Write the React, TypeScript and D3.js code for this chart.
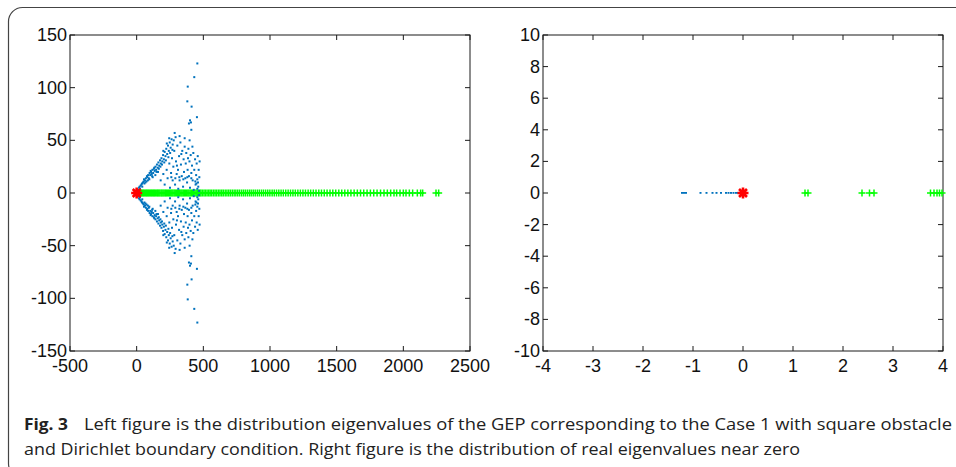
import React, { useEffect, useRef } from "react";
import * as d3 from "d3";

// tick values
const leftXTicks = [-500, 0, 500, 1000, 1500, 2000, 2500];
const leftYTicks = [-150, -100, -50, 0, 50, 100, 150];
const rightXTicks = [-4, -3, -2, -1, 0, 1, 2, 3, 4];
const rightYTicks = [-10, -8, -6, -4, -2, 0, 2, 4, 6, 8, 10];

// complex eigenvalues, upper half plane (re, im) - conjugates are drawn too
const complexUpper: [number, number][] = [
  [455, 123], [432, 110], [383, 101], [380, 87], [412, 82], [452, 72],
  [400, 69], [407, 67], [392, 66], [410, 60], [397, 50], [360, 52], [322, 54],
  [12, 3], [18, 5], [25, 4], [30, 7], [36, 8], [42, 6], [47, 10], [53, 11], [58, 9],
  [63, 12], [69, 14], [74, 11], [80, 15], [86, 17], [91, 14], [97, 19], [102, 17],
  [108, 20], [113, 18], [118, 22], [124, 19], [129, 23], [135, 21], [141, 25],
  [146, 22], [152, 27], [158, 24], [163, 29], [169, 26], [175, 31], [181, 28],
  [186, 33], [192, 30], [198, 36], [204, 32], [210, 39], [216, 35], [222, 42],
  [229, 37], [235, 45], [241, 40], [248, 48], [255, 43], [262, 51], [270, 46],
  [285, 57], [292, 53], [120, 15], [140, 17], [160, 20], [95, 13],
  [22, 6], [40, 9], [55, 13], [66, 10], [77, 16], [84, 12], [105, 21], [116, 16],
  [132, 24], [149, 20], [166, 23], [178, 25], [190, 27], [207, 29], [219, 31],
  [238, 34], [251, 38], [268, 41], [278, 50], [226, 47], [200, 40], [244, 52],
  [180, 12], [200, 18], [210, 8], [225, 22], [232, 14], [245, 28], [250, 5],
  [258, 19], [265, 33], [270, 12], [275, 25], [282, 40], [288, 8], [295, 30],
  [300, 18], [305, 45], [310, 22], [312, 4], [318, 35], [322, 12], [328, 48],
  [332, 27], [338, 16], [342, 40], [348, 6], [352, 32], [355, 20], [360, 44],
  [365, 14], [368, 28], [372, 38], [378, 10], [382, 22], [388, 42], [392, 16],
  [396, 30], [400, 5], [405, 36], [410, 19], [415, 26], [420, 12], [425, 38],
  [428, 3], [432, 22], [438, 32], [442, 8], [446, 17], [450, 28], [455, 13],
  [458, 35], [462, 6], [465, 22], [468, 2], [470, 15], [472, 30],
  [260, 15], [290, 14], [320, 15], [350, 13], [380, 15], [410, 14], [440, 11],
  [455, 4], [448, 9], [460, 10], [335, 37], [302, 26], [385, 33], [418, 44],
];

// real eigenvalues of the left panel
const realLeft = [
  8, 14, 22, 29, 35, 43, 50, 57, 66, 73, 80, 88, 95, 104, 111, 119, 127, 134,
  142, 151, 158, 166, 174, 183, 190, 198, 206, 215, 222, 231, 239, 247, 256,
  264, 272, 281, 289, 298, 306, 315, 323, 332, 340, 349, 358, 366, 375, 384,
  392, 401, 410, 419, 428, 437, 446, 455, 464, 473, 482,
  493, 505, 516, 528, 540, 551, 563, 576, 588, 600, 613, 625, 638, 650, 664,
  677, 690, 703, 717, 731, 744, 758, 772, 787, 801, 815, 830, 845, 859, 874,
  889, 905, 920, 936, 951, 967, 983, 999, 1016, 1032, 1049, 1066, 1083, 1100,
  1118, 1136, 1154, 1172, 1190, 1209, 1228, 1247, 1266, 1286, 1305, 1325, 1345,
  1366, 1386, 1407, 1428, 1450, 1471, 1493, 1516, 1538, 1561, 1584, 1607, 1631,
  1655, 1679, 1703, 1728, 1753, 1778, 1803, 1829, 1855, 1880, 1905, 1930, 1950,
  1975, 2000, 2020, 2045, 2070, 2105, 2130, 2145, 2245, 2265,
];

// real eigenvalues near zero (right panel)
const rightNegative = [
  -1.22, -1.18, -1.14, -0.85, -0.73, -0.61, -0.53, -0.44, -0.34, -0.29, -0.24,
  -0.19, -0.14, -0.1,
];
const rightPositive = [1.24, 1.3, 2.38, 2.53, 2.62, 3.75, 3.82, 3.88, 3.93, 3.98];
const zeroValue = [0];

const BLUE = "#0072BD";
const GREEN = "#00FF00";
const AXIS_FONT = "'Liberation Sans', Arial, sans-serif";

function drawPanel(svg, opts) {
  const { left, right, top, bottom, xDomain, yDomain, xTicks, yTicks } = opts;
  const x = d3.scaleLinear().domain(xDomain).range([left, right]);
  const y = d3.scaleLinear().domain(yDomain).range([bottom, top]);
  const g = svg.append("g");

  // box
  g.append("rect")
    .attr("x", left).attr("y", top)
    .attr("width", right - left).attr("height", bottom - top)
    .attr("fill", "white").attr("stroke", "#1a1a1a").attr("stroke-width", 1);

  const tl = 5;
  xTicks.forEach(t => {
    g.append("line").attr("x1", x(t)).attr("x2", x(t)).attr("y1", bottom).attr("y2", bottom - tl).attr("stroke", "#1a1a1a");
    g.append("line").attr("x1", x(t)).attr("x2", x(t)).attr("y1", top).attr("y2", top + tl).attr("stroke", "#1a1a1a");
  });
  yTicks.forEach(t => {
    g.append("line").attr("x1", left).attr("x2", left + tl).attr("y1", y(t)).attr("y2", y(t)).attr("stroke", "#1a1a1a");
    g.append("line").attr("x1", right).attr("x2", right - tl).attr("y1", y(t)).attr("y2", y(t)).attr("stroke", "#1a1a1a");
  });

  g.selectAll("text.xt").data(xTicks).enter().append("text")
    .attr("class", "xt")
    .attr("x", d => x(d)).attr("y", bottom + 21)
    .attr("text-anchor", "middle")
    .attr("font-family", AXIS_FONT).attr("font-size", 18).attr("fill", "#111")
    .text(d => String(d));

  g.selectAll("text.yt").data(yTicks).enter().append("text")
    .attr("class", "yt")
    .attr("x", left - 3).attr("y", d => y(d) + 6)
    .attr("text-anchor", "end")
    .attr("font-family", AXIS_FONT).attr("font-size", 18).attr("fill", "#111")
    .text(d => String(d));

  return { g, x, y };
}

function plus(g, cx, cy, s) {
  g.append("path")
    .attr("d", `M${cx - s},${cy}H${cx + s}M${cx},${cy - s}V${cy + s}`)
    .attr("stroke", GREEN).attr("stroke-width", 1.5).attr("fill", "none");
}

function star(g, cx, cy, s) {
  const d = s * 0.72;
  g.append("path")
    .attr("d", `M${cx - s},${cy}H${cx + s}M${cx},${cy - s}V${cy + s}M${cx - d},${cy - d}L${cx + d},${cy + d}M${cx - d},${cy + d}L${cx + d},${cy - d}`)
    .attr("stroke", "#ff0000").attr("stroke-width", 2.6).attr("fill", "none");
}

export default function App() {
  const ref = useRef(null);

  useEffect(() => {
    document.body.style.margin = "0";
    const svg = d3.select(ref.current);
    svg.selectAll("*").remove();

    svg.append("rect").attr("width", 956).attr("height", 467).attr("fill", "white");
    svg.append("rect")
      .attr("x", 8.5).attr("y", 7.5).attr("width", 1000).attr("height", 470)
      .attr("rx", 14).attr("fill", "white").attr("stroke", "#444").attr("stroke-width", 1.2);

    // left panel
    const L = drawPanel(svg, {
      left: 70, right: 470, top: 35, bottom: 351,
      xDomain: [-500, 2500], yDomain: [-150, 150],
      xTicks: leftXTicks, yTicks: leftYTicks,
    });
    realLeft.forEach(v => plus(L.g, L.x(v), L.y(0), 3.5));
    const allComplex = complexUpper.flatMap(([re, im]) => [[re, im], [re, -im]]);
    L.g.selectAll("rect.pt").data(allComplex).enter().append("rect")
      .attr("class", "pt")
      .attr("x", d => L.x(d[0]) - 1).attr("y", d => L.y(d[1]) - 1)
      .attr("width", 2).attr("height", 2).attr("fill", BLUE);
    zeroValue.forEach(v => star(L.g, L.x(v), L.y(0), 5.5));

    // right panel
    const R = drawPanel(svg, {
      left: 543, right: 943, top: 35, bottom: 351,
      xDomain: [-4, 4], yDomain: [-10, 10],
      xTicks: rightXTicks, yTicks: rightYTicks,
    });
    R.g.selectAll("rect.pt").data(rightNegative).enter().append("rect")
      .attr("class", "pt")
      .attr("x", d => R.x(d) - 1).attr("y", R.y(0) - 1)
      .attr("width", 2).attr("height", 1.8).attr("fill", BLUE);
    rightPositive.forEach(v => plus(R.g, R.x(v), R.y(0), 3.5));
    zeroValue.forEach(v => star(R.g, R.x(v), R.y(0), 5.5));

    // caption
    const capFont = "'Open Sans', sans-serif";
    svg.append("text").attr("x", 24).attr("y", 430)
      .attr("font-family", capFont).attr("font-weight", "bold")
      .attr("font-size", 16.5).attr("fill", "#222").attr("textLength", 44)
      .attr("lengthAdjust", "spacingAndGlyphs").text("Fig. 3");
    svg.append("text").attr("x", 84).attr("y", 430)
      .attr("font-family", capFont).attr("font-size", 17).attr("fill", "#222")
      .attr("textLength", 868).attr("lengthAdjust", "spacingAndGlyphs")
      .text("Left figure is the distribution eigenvalues of the GEP corresponding to the Case 1 with square obstacle");
    svg.append("text").attr("x", 24).attr("y", 455)
      .attr("font-family", capFont).attr("font-size", 17).attr("fill", "#222")
      .attr("textLength", 776).attr("lengthAdjust", "spacingAndGlyphs")
      .text("and Dirichlet boundary condition. Right figure is the distribution of real eigenvalues near zero");
  }, []);

  return <svg ref={ref} width={956} height={467} style={{ display: "block" }} />;
}
